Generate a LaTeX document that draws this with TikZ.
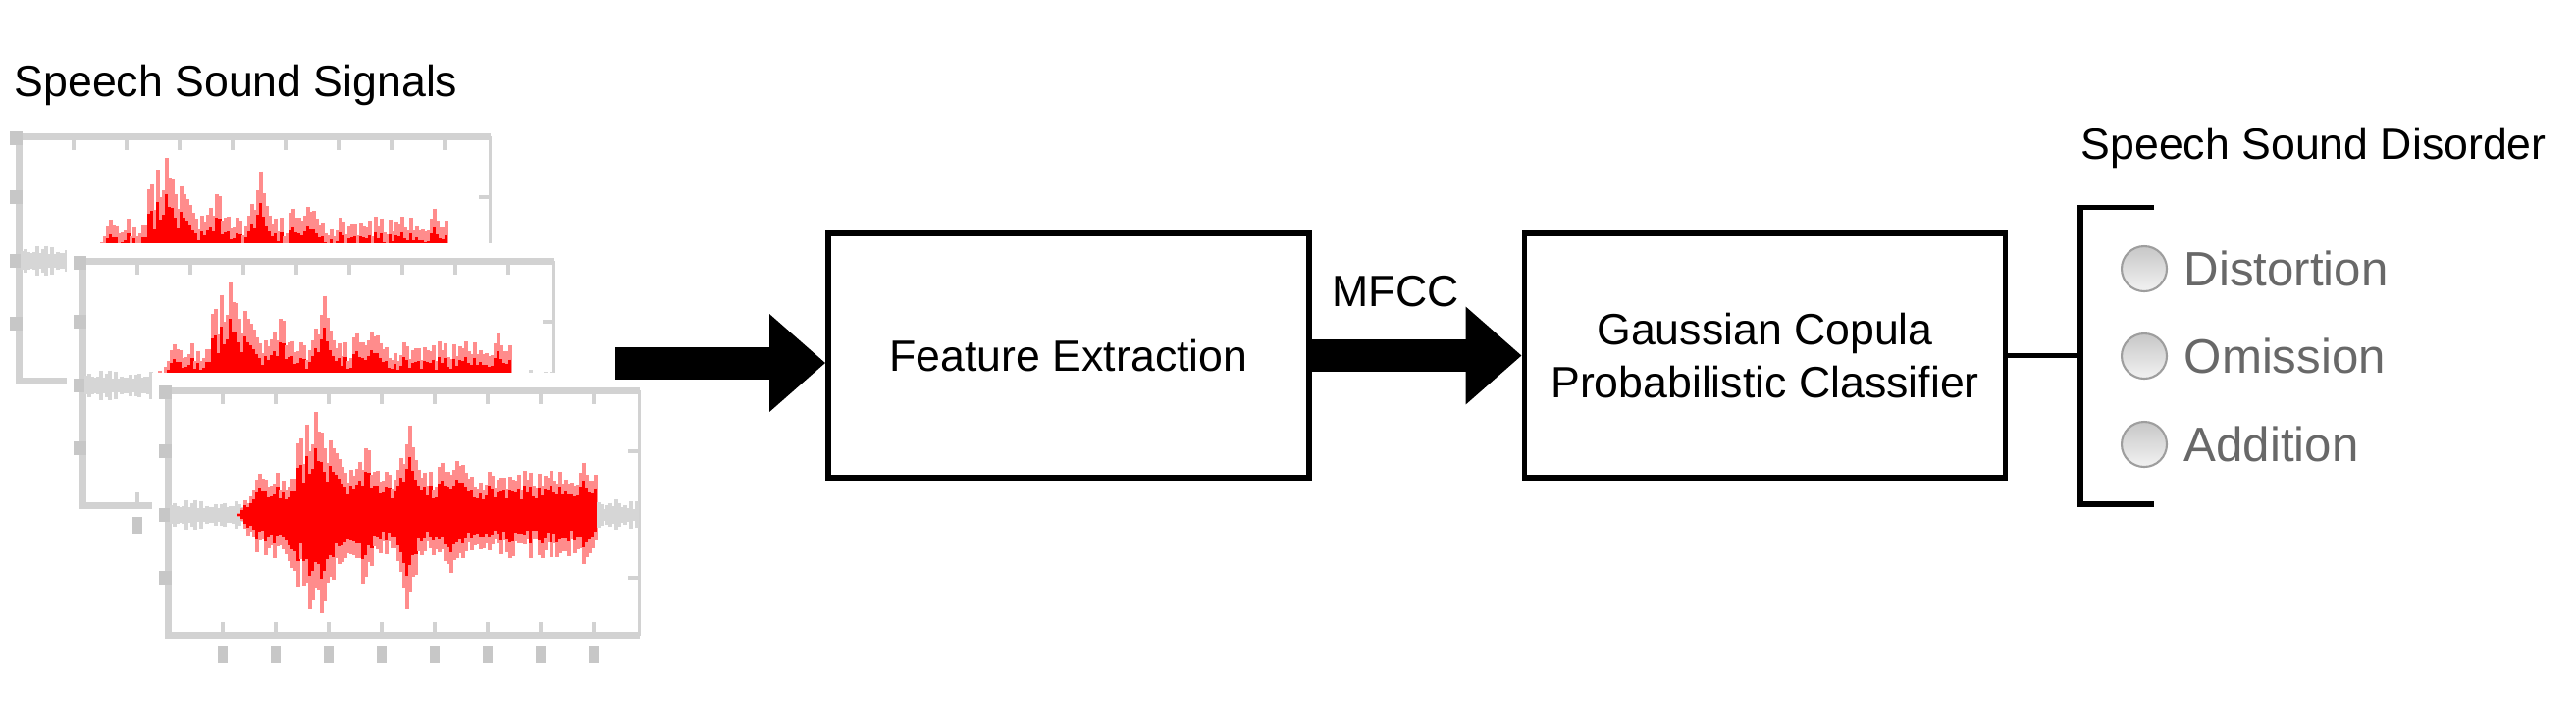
\documentclass[tikz,border=0pt]{standalone}
\usepackage{fontspec}
\setmainfont{Liberation Sans}
\usetikzlibrary{positioning,calc,arrows.meta}
\definecolor{axisgray}{HTML}{D2D2D2}
\definecolor{itemgray}{HTML}{686868}

\newcommand{\signalplot}[1]{%
\begin{scope}[shift={#1}, x=0.01cm, y=-0.01cm]
	\fill[white] (-8,-18) rectangle (497,288);
	\draw[plotaxis] (0,0) -- (489,0);
	\draw[plotaxis] (9,0) -- (9,250) -- (489,250);
	\draw[plotaxis, line width=0.025cm] (489,0) -- (489,250);
	\foreach \t in {64,118,...,442} {
		\draw[plottick] (\t,0) -- (\t,14);
		\draw[plottick] (\t,250) -- (\t,236);
		\fill[plotblob] (\t-5,261) rectangle (\t+5,278);
	}
	\foreach \t in {2,62,127,191} \fill[plotblob] (-1,\t-7) rectangle (12,\t+7);
	\foreach \t in {62,191} \draw[plottick] (489,\t) -- (477,\t);
	\pgfmathsetseed{11}
	\foreach \s in {12,15,...,486} {
		\pgfmathsetmacro{\env}{(\s>=80)*(\s<=444)*(45*min(1,(\s-80)/20) + 78*max(0,1-abs(\s-160)/30) + 35*max(0,1-abs(\s-207)/16) + 70*max(0,1-abs(\s-254)/13) + 20*max(0,1-abs(\s-300)/22) + 15*max(0,1-abs(\s-431)/5))}
		\pgfmathsetmacro{\up}{\env*(0.55+0.45*rnd)}
		\pgfmathsetmacro{\dn}{\env*(0.55+0.45*rnd)}
		\pgfmathsetmacro{\nz}{6+10*rnd}
		\draw[noiseline] (\s,127-\nz) -- (\s,127+\nz);
		\draw[wavesoft] (\s,127-\up) -- (\s,127+\dn);
		\draw[wavehard] (\s,127-0.65*\up) -- (\s,127+0.65*\dn);
	}
\end{scope}}

\begin{document}
\begin{tikzpicture}[
	lbl/.style={font=\fontsize{12.7}{15.4}\selectfont, inner sep=0pt},
	block/.style={draw, line width=1.6pt, minimum width=4.9cm, minimum height=2.49cm, align=center, inner sep=0pt, font=\fontsize{12.7}{15.4}\selectfont},
	fat/.style={line width=0.33cm, -{Triangle[length=0.57cm,width=0.96cm]}},
	wire/.style={line width=1.6pt},
	dot/.style={circle, minimum size=0.46cm, inner sep=0pt, draw=black!38, line width=0.6pt, top color=black!22, bottom color=black!5},
	item/.style={font=\fontsize{14}{16}\selectfont, text=itemgray, inner sep=0pt},
	plotaxis/.style={axisgray, line width=0.07cm},
	plottick/.style={axisgray, line width=0.035cm},
	plotblob/.style={black!22},
	noiseline/.style={black!16, line width=0.04cm},
	wavesoft/.style={red!45, line width=0.04cm},
	wavehard/.style={red, line width=0.034cm}
	]
	\useasboundingbox (0,0) rectangle (26.25,-7.29);
	
	\node[lbl, anchor=base west] (signals) at (0.14,-0.98) {Speech Sound Signals};
	\signalplot{(0.11,-1.39)}
	\signalplot{(0.76,-2.66)}
	\signalplot{(1.63,-3.98)}
	
	\node[block] (fe) at (10.89,-3.625) {Feature Extraction};
	\node[block] (gc) at (17.985,-3.625) {Gaussian Copula\\Probabilistic Classifier};
	
	\coordinate (src) at (6.27,-3.70);
	\draw[fat] (src) -- (src -| fe.west);
	\draw[fat] (fe.east) -- (gc.west);
	\node[lbl, anchor=base] (mfcc) at (14.22,-3.12) {MFCC};
	
	\node[lbl, anchor=base west] (disorder) at (21.20,-1.62) {Speech Sound Disorder};
	\node[minimum height=3.01cm, minimum width=3.4cm, inner sep=0pt, anchor=west] (list) at (21.20,-3.625) {};
	\draw[wire] (gc.east) -- (gc.east -| list.west);
	\draw[wire] ($(list.north west)+(0.75,0)$) -- (list.north west) -- (list.south west) -- ++(0.75,0);
	
	\foreach \name/\txt/\yy in {dist/Distortion/2.74, omis/Omission/3.63, addi/Addition/4.53} {
		\node[dot] (\name) at (21.85,-\yy) {};
		\node[item, right=0.16cm of \name] (\name-txt) {\txt};
	}
\end{tikzpicture}
\end{document}
